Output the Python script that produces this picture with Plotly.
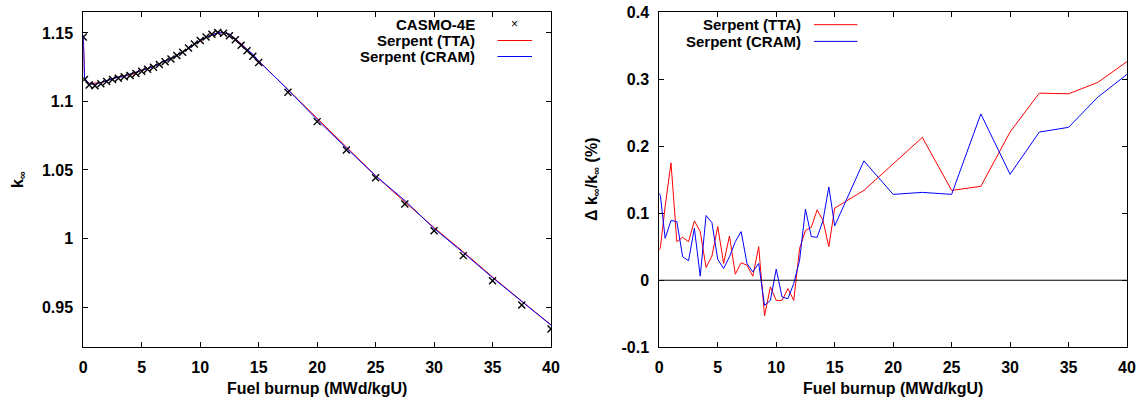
import numpy as np
import plotly.graph_objects as go

W, H = 1139, 401

# burnup points (MWd/kgU)
burnup = [0, 0.1, 0.5, 1.0, 1.5, 2.0, 2.5, 3.0, 3.5, 4.0, 4.5, 5.0, 5.5, 6.0, 6.5, 7.0,
          7.5, 8.0, 8.5, 9.0, 9.5, 10.0, 10.5, 11.0, 11.5, 12.0, 12.5, 13.0, 13.5, 14.0,
          14.5, 15.0, 17.5, 20.0, 22.5, 25.0, 27.5, 30.0, 32.5, 35.0, 37.5, 40.0]

# CASMO-4E k-inf
k_casmo = [1.147, 1.116, 1.112, 1.1115, 1.113, 1.1145, 1.116, 1.117, 1.118, 1.119, 1.1205,
           1.122, 1.1235, 1.125, 1.127, 1.129, 1.131, 1.1335, 1.136, 1.139, 1.142, 1.1445,
           1.147, 1.149, 1.1503, 1.1498, 1.148, 1.145, 1.141, 1.137, 1.133, 1.1285,
           1.1067, 1.0853, 1.0646, 1.0444, 1.0252, 1.0057, 0.9875, 0.9692, 0.9515, 0.9339]

# relative difference to CASMO (%)
d_tta = [0.045, 0.05, 0.11, 0.175, 0.0575, 0.064, 0.0575, 0.0885, 0.0725, 0.019, 0.036,
         0.08, 0.025, 0.066, 0.009, 0.026, 0.0225, 0.006, 0.05, -0.053, -0.01, -0.03,
         -0.03, -0.0125, -0.03, 0.0475, 0.074, 0.079, 0.105, 0.089, 0.05, 0.1075,
         0.134, 0.174, 0.213, 0.134, 0.140, 0.221, 0.279, 0.278, 0.295, 0.326]
d_cram = [0.13, 0.125, 0.0625, 0.089, 0.0875, 0.035, 0.029, 0.0775, 0.006, 0.0965, 0.086,
          0.031, 0.0175, 0.035, 0.0575, 0.0725, 0.025, 0.0125, 0.025, -0.0375, -0.03,
          0.0165, -0.025, -0.0275, -0.005, 0.03, 0.106, 0.065, 0.064, 0.089, 0.139, 0.081,
          0.178, 0.128, 0.131, 0.128, 0.248, 0.158, 0.221, 0.228, 0.273, 0.307]

x_ticks = [0, 5, 10, 15, 20, 25, 30, 35, 40]
k_ticks = [0.95, 1.0, 1.05, 1.1, 1.15]
k_ticktext = ["0.95", "1", "1.05", "1.1", "1.15"]
d_ticks = [-0.1, 0, 0.1, 0.2, 0.3, 0.4]
d_ticktext = ["-0.1", "0", "0.1", "0.2", "0.3", "0.4"]

k_tta = np.array(k_casmo) * (1 + np.array(d_tta) / 100)
k_cram = np.array(k_casmo) * (1 + np.array(d_cram) / 100)

RED = "#ff0000"
BLUE = "#0000ff"
FONT = "Liberation Sans"

fig = go.Figure()
fig.add_trace(go.Scatter(x=burnup, y=k_tta, mode="lines", line=dict(color=RED, width=1),
                         xaxis="x", yaxis="y", showlegend=False))
fig.add_trace(go.Scatter(x=burnup, y=k_cram, mode="lines", line=dict(color=BLUE, width=1),
                         xaxis="x", yaxis="y", showlegend=False))
fig.add_trace(go.Scatter(x=burnup, y=k_casmo, mode="markers",
                         marker=dict(symbol="x-thin", size=7, line=dict(color="black", width=1.4)),
                         xaxis="x", yaxis="y", showlegend=False))
fig.add_trace(go.Scatter(x=burnup, y=d_tta, mode="lines", line=dict(color=RED, width=1),
                         xaxis="x2", yaxis="y2", showlegend=False))
fig.add_trace(go.Scatter(x=burnup, y=d_cram, mode="lines", line=dict(color=BLUE, width=1),
                         xaxis="x2", yaxis="y2", showlegend=False))

tickfont = dict(family=FONT, size=16, color="black", weight="bold")
common = dict(showline=True, linecolor="black", linewidth=1, mirror="ticks",
              ticks="inside", ticklen=5, tickcolor="black", tickwidth=1,
              showgrid=False, zeroline=False, tickfont=tickfont, automargin=False)

ytop, ybot = 1 - 12 / H, 1 - 347.3 / H
fig.update_layout(
    width=W, height=H,
    margin=dict(l=0, r=0, t=0, b=0),
    paper_bgcolor="white", plot_bgcolor="white",
    xaxis=dict(domain=[83.3 / W, 551 / W], range=[0, 40], tickvals=x_ticks,
               anchor="y", ticklabelstandoff=5, **common),
    yaxis=dict(domain=[ybot, ytop], range=[0.9206, 1.1653], tickvals=k_ticks,
               ticktext=k_ticktext, anchor="x", ticklabelstandoff=6, **common),
    xaxis2=dict(domain=[659.3 / W, 1127 / W], range=[0, 40], tickvals=x_ticks,
                anchor="y2", ticklabelstandoff=5, **common),
    yaxis2=dict(domain=[ybot, ytop], range=[-0.1, 0.4], tickvals=d_ticks,
                ticktext=d_ticktext, anchor="x2", ticklabelstandoff=6, **common),
)
# zero line on the difference plot
fig.add_shape(type="line", xref="x2 domain", yref="y2", x0=0, x1=1, y0=0, y1=0,
              line=dict(color="black", width=1))

title_font = dict(family=FONT, size=16, color="black", weight="bold")
for xc in [(83.3 + 551) / 2, (659.3 + 1127) / 2]:
    fig.add_annotation(text="Fuel burnup (MWd/kgU)", xref="paper", yref="paper",
                       x=xc / W, y=1 - 388 / H, showarrow=False, font=title_font,
                       xanchor="center", yanchor="middle")
fig.add_annotation(text="k<sub>∞</sub>", xref="paper", yref="paper", x=18 / W,
                   y=1 - 180 / H, showarrow=False, font=title_font, textangle=-90,
                   xanchor="center", yanchor="middle")
fig.add_annotation(text="Δ k<sub>∞</sub>/k<sub>∞</sub> (%)", xref="paper", yref="paper",
                   x=592 / W, y=1 - 180 / H, showarrow=False, font=title_font,
                   textangle=-90, xanchor="center", yanchor="middle")

# gnuplot-style keys: text right-aligned, sample to the right
leg_font = dict(family=FONT, size=15, color="black", weight="bold")
left_keys = [("CASMO-4E", None, 24), ("Serpent (TTA)", RED, 40.5), ("Serpent (CRAM)", BLUE, 56.5)]
for label, col, yy in left_keys:
    fig.add_annotation(text=label, xref="paper", yref="paper", x=477 / W, y=1 - yy / H,
                       showarrow=False, font=leg_font, xanchor="right", yanchor="middle")
    if col is None:
        fig.add_annotation(text="×", xref="paper", yref="paper", x=514 / W, y=1 - yy / H,
                           showarrow=False, font=dict(family=FONT, size=12, color="black"),
                           xanchor="center", yanchor="middle")
    else:
        fig.add_shape(type="line", xref="paper", yref="paper", x0=497.5 / W, x1=532 / W,
                      y0=1 - yy / H, y1=1 - yy / H, line=dict(color=col, width=1))
right_keys = [("Serpent (TTA)", RED, 24.7), ("Serpent (CRAM)", BLUE, 41.4)]
for label, col, yy in right_keys:
    fig.add_annotation(text=label, xref="paper", yref="paper", x=802.6 / W, y=1 - yy / H,
                       showarrow=False, font=leg_font, xanchor="right", yanchor="middle")
    fig.add_shape(type="line", xref="paper", yref="paper", x0=814 / W, x1=857.4 / W,
                  y0=1 - yy / H, y1=1 - yy / H, line=dict(color=col, width=1))

# page body has a default margin; drop it so the figure fills the window
fig.write_html("out.html", config={"displayModeBar": False},
               post_script="document.body.style.margin='0';")
